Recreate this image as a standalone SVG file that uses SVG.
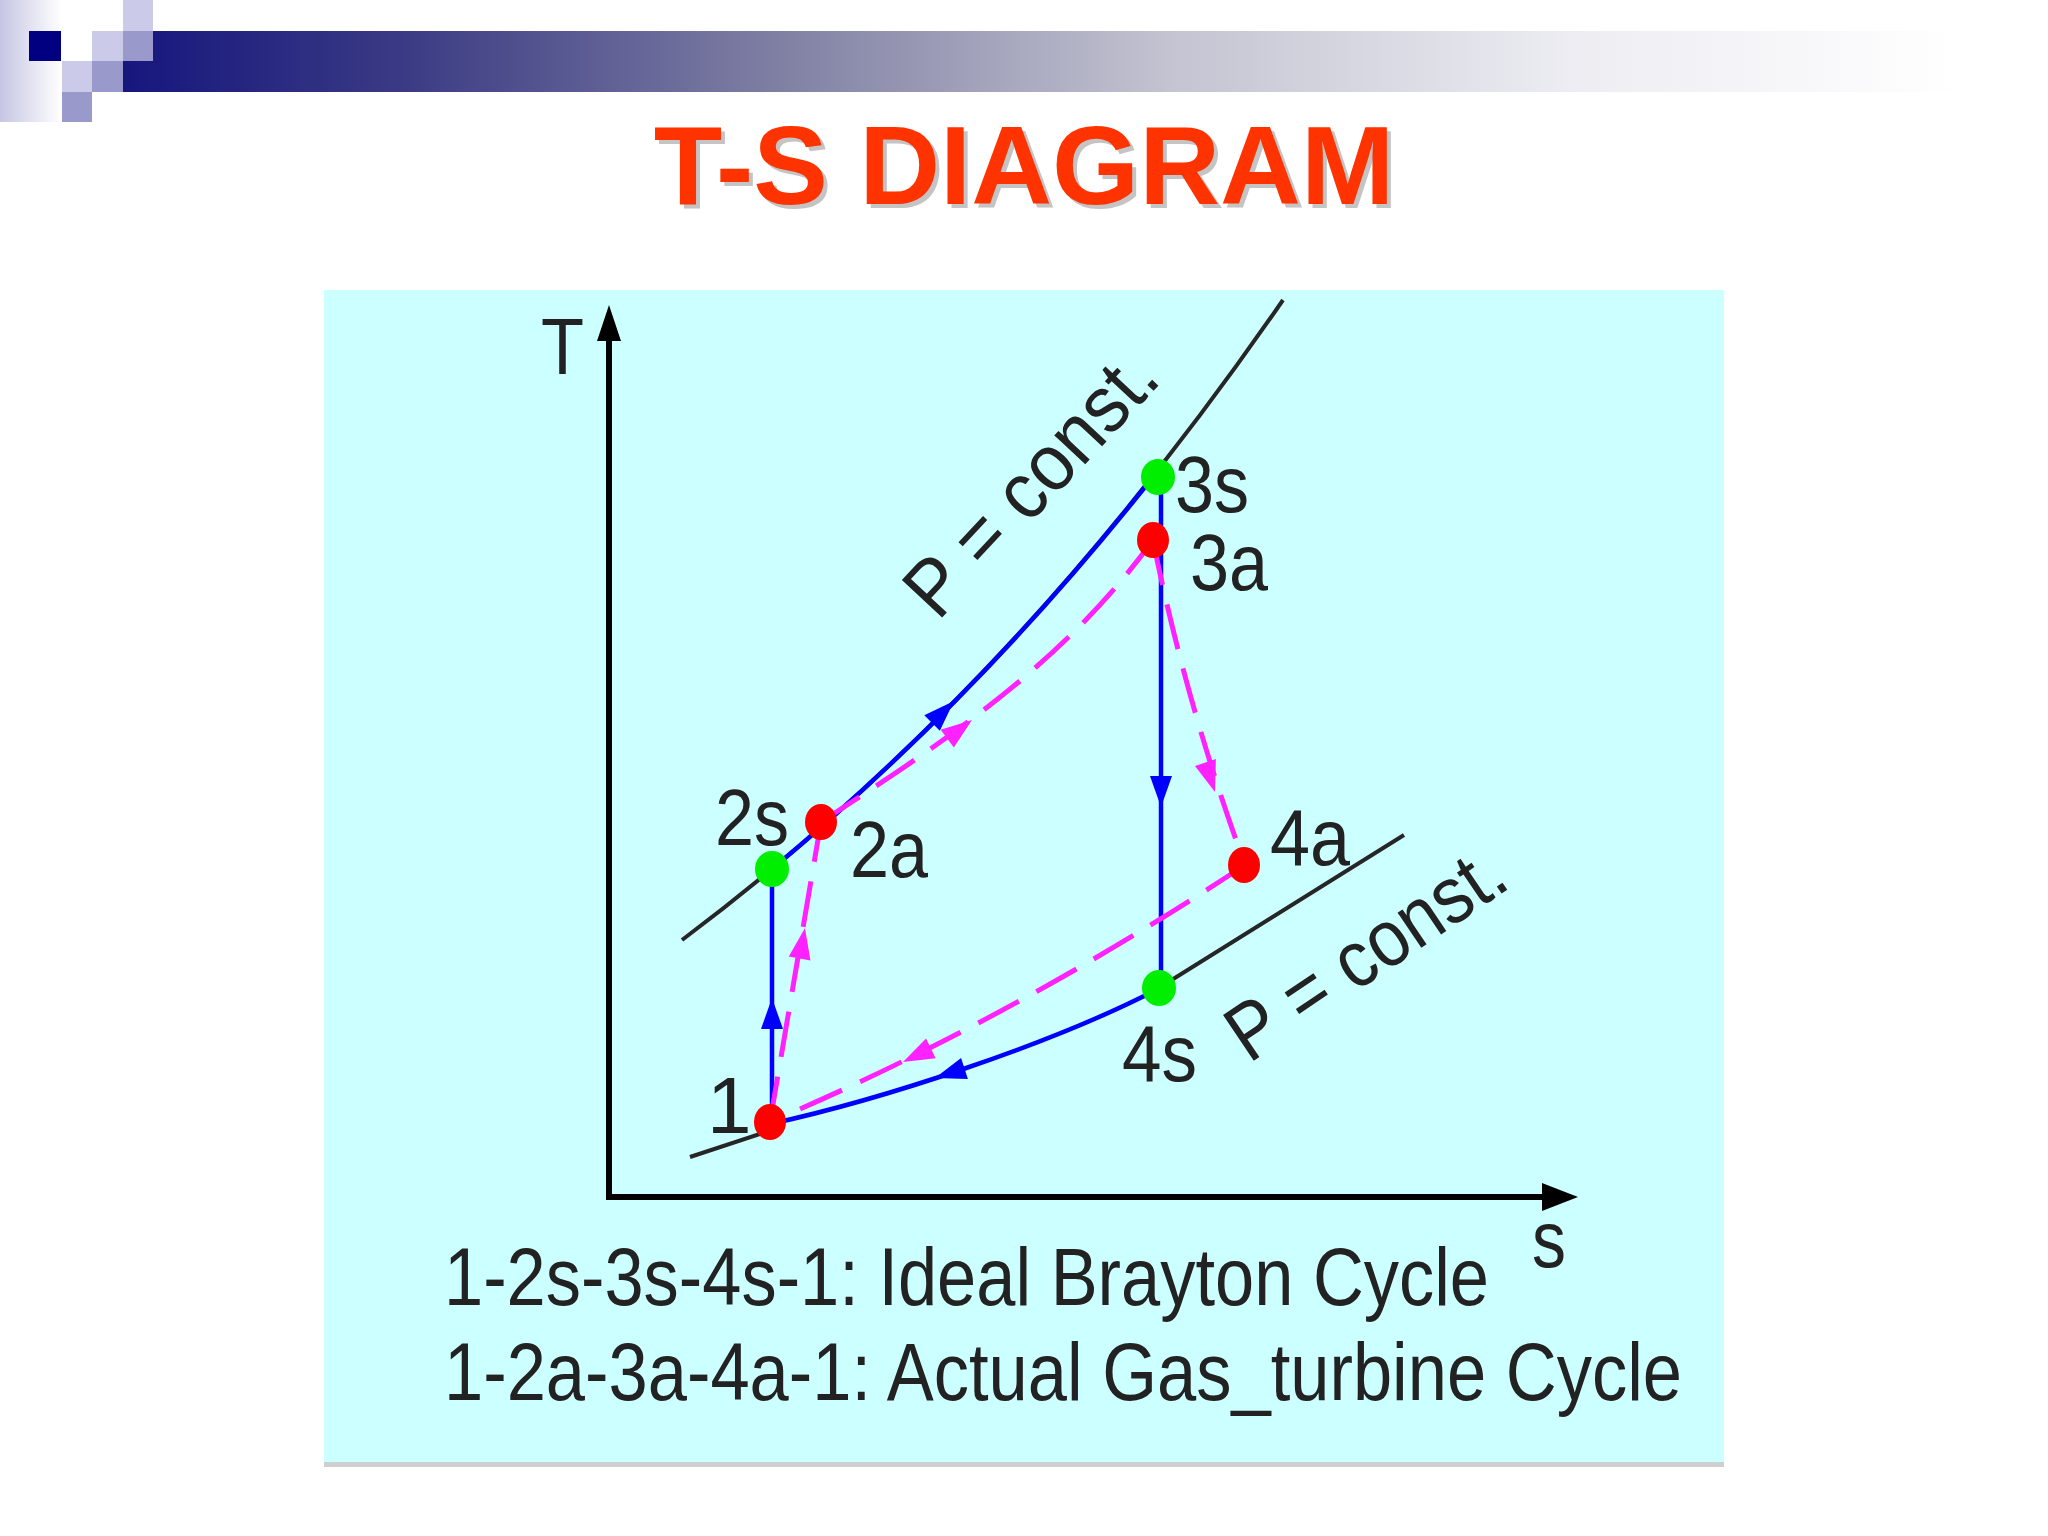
<svg xmlns="http://www.w3.org/2000/svg" xmlns:xlink="http://www.w3.org/1999/xlink" width="2048" height="1536" viewBox="0 0 2048 1536">
<defs>
  <linearGradient id="barGrad" gradientUnits="userSpaceOnUse" x1="123" y1="0" x2="1960" y2="0">
    <stop offset="0" stop-color="#16167e"/>
    <stop offset="0.151" stop-color="#3a3a84"/>
    <stop offset="0.358" stop-color="#8080a4"/>
    <stop offset="0.573" stop-color="#c4c4d2"/>
    <stop offset="0.786" stop-color="#ececf2"/>
    <stop offset="1" stop-color="#ffffff"/>
  </linearGradient>
  <linearGradient id="leftGrad" x1="0" y1="0" x2="1" y2="0">
    <stop offset="0" stop-color="#c6c6e4"/>
    <stop offset="1" stop-color="#ffffff"/>
  </linearGradient>
  <path id="ah" d="M0,0 L-31,-11 L-31,11 Z"/>
</defs>
<style>
  .lbl { font-family: "Liberation Sans", Arial, sans-serif; font-size: 80px; fill: #222222; }
  .cap { font-size: 81px; }
  .title { font-family: "Liberation Sans", Arial, sans-serif; font-size: 112px; font-weight: bold; text-anchor: middle; }
  .iso { stroke: #262626; stroke-width: 4; fill: none; }
  .blue { stroke: #0000ff; stroke-width: 4.5; fill: none; }
  .mag { stroke: #ff22ff; stroke-width: 5; fill: none; stroke-dasharray: 46 20; }
  .axis { stroke: #000000; stroke-width: 6; fill: none; }
  .bh { fill: #0000ff; }
  .mh { fill: #ff22ff; }
  .red { fill: #ff0000; }
  .green { fill: #00ee00; }
  .lt { fill: #cbcbe9; }
  .md { fill: #9999cc; }
</style>

<rect width="2048" height="1536" fill="#ffffff"/>

<g id="decoration">
  <rect x="0" y="0" width="62" height="122" fill="url(#leftGrad)"/>
  <rect x="123" y="31" width="1850" height="61" fill="url(#barGrad)"/>
  <rect x="29" y="31" width="32" height="30" fill="#000080"/>
  <rect class="lt" x="123" y="0" width="30" height="31"/>
  <rect class="lt" x="92" y="31" width="31" height="30"/>
  <rect class="lt" x="62" y="61" width="30" height="31"/>
  <rect class="md" x="123" y="31" width="30" height="30"/>
  <rect class="md" x="92" y="61" width="31" height="31"/>
  <rect class="md" x="62" y="92" width="30" height="30"/>
</g>

<g id="title">
  <text class="title" x="1028" y="208" fill="#c4c4c4">T-S DIAGRAM</text>
  <text class="title" x="1024" y="204" fill="#ff3300">T-S DIAGRAM</text>
</g>

<g id="panel">
  <rect x="324" y="290" width="1400" height="1172" fill="#ccffff"/>
  <rect x="324" y="1462" width="1400" height="5" fill="#cfcfcf"/>
</g>

<g id="axes">
  <line class="axis" x1="609" y1="330" x2="609" y2="1197"/>
  <line class="axis" x1="606" y1="1197" x2="1550" y2="1197"/>
  <path d="M609,305 L621,341 L597,341 Z" fill="#000"/>
  <path d="M1578,1197 L1542,1183 L1542,1211 Z" fill="#000"/>
  <text class="lbl" x="541" y="374" textLength="43" lengthAdjust="spacingAndGlyphs">T</text>
  <text class="lbl" x="1532" y="1267" textLength="34" lengthAdjust="spacingAndGlyphs">s</text>
</g>

<g id="connectors">
  <!-- isobars -->
  <path class="iso" d="M682,940 C882,790 1083,590 1283,300"/>
  <path class="iso" d="M690,1157 L772,1130"/>
  <path class="iso" d="M1162,986 L1404,835"/>
  <!-- ideal cycle (blue) -->
  <path class="blue" d="M772,1122 L772,869"/>
  <path class="blue" d="M772,869 C902,761 1033,630 1160,468"/>
  <path class="blue" d="M1161,477 L1161,988"/>
  <path class="blue" d="M1158,989 C1050,1045 880,1100 770,1124"/>
  <!-- actual cycle (magenta dashed) -->
  <path class="mag" d="M770,1122 L821,822"/>
  <path class="mag" d="M821,822 C941,744 1063,665 1153,540"/>
  <path class="mag" d="M1153,540 Q1185,700 1245,865"/>
  <path class="mag" d="M1245,865 Q1010,1020 770,1122"/>
  <!-- arrowheads -->
  <use xlink:href="#ah" class="bh" transform="translate(772,998) rotate(-90)"/>
  <use xlink:href="#ah" class="bh" transform="translate(954,701) rotate(-45)"/>
  <use xlink:href="#ah" class="bh" transform="translate(1161,807) rotate(90)"/>
  <use xlink:href="#ah" class="bh" transform="translate(935,1078) rotate(162)"/>
  <use xlink:href="#ah" class="mh" transform="translate(805,928) rotate(-80)"/>
  <use xlink:href="#ah" class="mh" transform="translate(972,720) rotate(-37)"/>
  <use xlink:href="#ah" class="mh" transform="translate(1215,792) rotate(72)"/>
  <use xlink:href="#ah" class="mh" transform="translate(903,1062) rotate(154)"/>
  <!-- isobar labels -->
  <text class="lbl" transform="translate(938,622) rotate(-47)" textLength="330" lengthAdjust="spacingAndGlyphs">P = const.</text>
  <text class="lbl" transform="translate(1249,1064) rotate(-34)" textLength="318" lengthAdjust="spacingAndGlyphs">P = const.</text>
</g>

<g id="node-1">
  <ellipse class="red" cx="770" cy="1122" rx="16" ry="18"/>
  <text class="lbl" x="707" y="1133">1</text>
</g>
<g id="node-2s">
  <ellipse class="green" cx="772" cy="869" rx="17" ry="18"/>
  <text class="lbl" x="715" y="845" textLength="74" lengthAdjust="spacingAndGlyphs">2s</text>
</g>
<g id="node-2a">
  <ellipse class="red" cx="821" cy="822" rx="16" ry="18"/>
  <text class="lbl" x="850" y="877" textLength="78" lengthAdjust="spacingAndGlyphs">2a</text>
</g>
<g id="node-3s">
  <ellipse class="green" cx="1158" cy="477" rx="17" ry="18"/>
  <text class="lbl" x="1175" y="512" textLength="74" lengthAdjust="spacingAndGlyphs">3s</text>
</g>
<g id="node-3a">
  <ellipse class="red" cx="1153" cy="540" rx="16" ry="18"/>
  <text class="lbl" x="1190" y="590" textLength="78" lengthAdjust="spacingAndGlyphs">3a</text>
</g>
<g id="node-4a">
  <ellipse class="red" cx="1244" cy="865" rx="16" ry="18"/>
  <text class="lbl" x="1270" y="865" textLength="80" lengthAdjust="spacingAndGlyphs">4a</text>
</g>
<g id="node-4s">
  <ellipse class="green" cx="1159" cy="988" rx="17" ry="18"/>
  <text class="lbl" x="1122" y="1081" textLength="75" lengthAdjust="spacingAndGlyphs">4s</text>
</g>

<g id="caption">
  <text class="lbl cap" x="444" y="1305" textLength="1045" lengthAdjust="spacingAndGlyphs">1-2s-3s-4s-1: Ideal Brayton Cycle</text>
  <text class="lbl cap" x="444" y="1400" textLength="1238" lengthAdjust="spacingAndGlyphs">1-2a-3a-4a-1: Actual Gas_turbine Cycle</text>
</g>
</svg>
